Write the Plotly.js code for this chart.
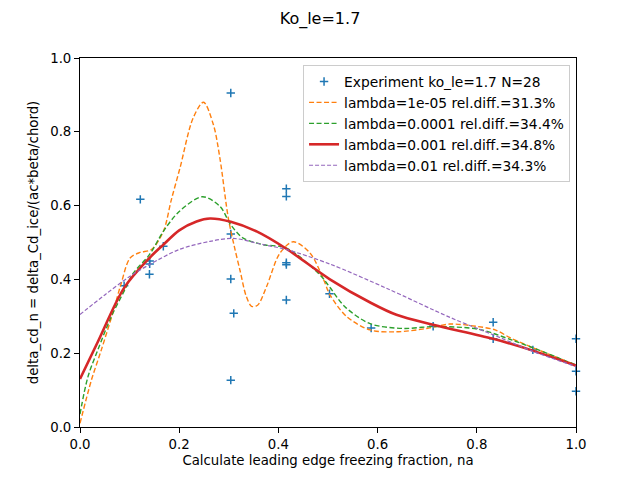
<!DOCTYPE html>
<html>
<head>
<meta charset="utf-8">
<script src="https://cdn.plot.ly/plotly-3.0.1.min.js"></script>
<style>
  html, body { margin: 0; padding: 0; background: #fff; }
  #chart { width: 640px; height: 480px; }
</style>
</head>
<body>
<div id="chart"></div>
<script>
// Measured drag increments against leading edge freezing fraction
const expX = [0.089, 0.1216, 0.1405, 0.1405, 0.14, 0.168, 0.304, 0.304, 0.304, 0.31, 0.304,
              0.416, 0.416, 0.416, 0.416, 0.416, 0.503, 0.587, 0.712, 0.833, 0.833, 0.913,
              1.0, 1.0, 1.0];
const expY = [0.383, 0.617, 0.450, 0.442, 0.414, 0.490, 0.905, 0.523, 0.401, 0.308, 0.127,
              0.646, 0.625, 0.445, 0.440, 0.344, 0.361, 0.268, 0.273, 0.284, 0.239, 0.209,
              0.239, 0.151, 0.097];

// Smoothing-spline fits for several regularisation weights
const fit1e5X = [0, 0.023, 0.043, 0.067, 0.083, 0.101, 0.121, 0.144, 0.168, 0.184, 0.2016, 0.228,
                 0.249, 0.269, 0.282, 0.299, 0.311, 0.323, 0.335, 0.346, 0.358, 0.376, 0.403,
                 0.43, 0.464, 0.491, 0.504, 0.538, 0.585, 0.638, 0.699, 0.746, 0.803, 0.837,
                 0.87, 0.924, 1.0];
const fit1e5Y = [0.01, 0.127, 0.209, 0.313, 0.389, 0.458, 0.473, 0.481, 0.530, 0.615, 0.702, 0.837,
                 0.880, 0.819, 0.729, 0.566, 0.490, 0.422, 0.355, 0.327, 0.330, 0.380, 0.471,
                 0.502, 0.471, 0.400, 0.358, 0.299, 0.263, 0.258, 0.267, 0.279, 0.272, 0.263,
                 0.240, 0.209, 0.168];

const fit1e4X = [0, 0.016, 0.036, 0.063, 0.09, 0.107, 0.14, 0.168, 0.2, 0.247, 0.282, 0.304,
                 0.329, 0.37, 0.416, 0.484, 0.504, 0.534, 0.585, 0.652, 0.712, 0.803, 0.87,
                 0.924, 1.0];
const fit1e4Y = [0.035, 0.136, 0.209, 0.299, 0.371, 0.416, 0.467, 0.530, 0.584, 0.624, 0.598, 0.548,
                 0.512, 0.494, 0.485, 0.412, 0.378, 0.326, 0.280, 0.267, 0.272, 0.265, 0.236,
                 0.209, 0.168];

const fit1e3X = [0, 0.036, 0.089, 0.14, 0.168, 0.2, 0.235, 0.262, 0.304, 0.356, 0.416, 0.503,
                 0.587, 0.638, 0.712, 0.833, 0.913, 1.0];
const fit1e3Y = [0.130, 0.231, 0.377, 0.458, 0.494, 0.533, 0.557, 0.565, 0.556, 0.530, 0.483, 0.401,
                 0.336, 0.304, 0.277, 0.239, 0.207, 0.166];

const fit1e2X = [0, 0.05, 0.1, 0.14, 0.2, 0.262, 0.309, 0.37, 0.416, 0.503, 0.618, 0.746,
                 0.833, 0.913, 1.0];
const fit1e2Y = [0.305, 0.358, 0.408, 0.440, 0.481, 0.503, 0.511, 0.494, 0.481, 0.442, 0.376, 0.297,
                 0.250, 0.205, 0.164];

const seriesNames = [
  'Experiment ko_le=1.7 N=28',
  'lambda=1e-05 rel.diff.=31.3%',
  'lambda=0.0001 rel.diff.=34.4%',
  'lambda=0.001 rel.diff.=34.8%',
  'lambda=0.01 rel.diff.=34.3%'
];
const tickVals = [0, 0.2, 0.4, 0.6, 0.8, 1.0];

const font = 'DejaVu Sans, sans-serif';

function fitTrace(x, y, name, color, width, dash) {
  return {
    x: x, y: y, name: name, type: 'scatter', mode: 'lines',
    line: { color: color, width: width, dash: dash, shape: 'spline', smoothing: 0.9 }
  };
}

const traces = [
  {
    x: expX, y: expY, name: seriesNames[0], type: 'scatter', mode: 'markers',
    marker: { symbol: 'cross-thin', size: 6, color: '#1f77b4',
              line: { color: '#1f77b4', width: 1.5 } },
    cliponaxis: false
  },
  fitTrace(fit1e5X, fit1e5Y, seriesNames[1], '#ff7f0e', 1.4, '5px,2.5px'),
  fitTrace(fit1e4X, fit1e4Y, seriesNames[2], '#2ca02c', 1.4, '5px,2.5px'),
  fitTrace(fit1e3X, fit1e3Y, seriesNames[3], '#d62728', 2.6, 'solid'),
  fitTrace(fit1e2X, fit1e2Y, seriesNames[4], '#9467bd', 1.2, '4px,2px')
];

const axisCommon = {
  range: [0, 1],
  tickvals: tickVals,
  tickformat: '.1f',
  ticks: 'outside',
  ticklen: 5,
  tickwidth: 1,
  tickcolor: '#000',
  showline: true,
  mirror: true,
  linecolor: '#000',
  linewidth: 1,
  showgrid: false,
  zeroline: false,
  tickfont: { family: font, size: 13.3, color: '#000' }
};

const layout = {
  width: 640,
  height: 480,
  margin: { l: 80, r: 64, t: 58, b: 53 },
  paper_bgcolor: '#fff',
  plot_bgcolor: '#fff',
  font: { family: font, color: '#000' },
  title: {
    text: 'Ko_le=1.7',
    font: { family: font, size: 16, color: '#000' },
    xref: 'container', x: 0.5, xanchor: 'center',
    yref: 'container', y: 1 - 18 / 480, yanchor: 'middle'
  },
  xaxis: Object.assign({}, axisCommon, {
    title: { text: 'Calculate leading edge freezing fraction, na',
             font: { family: font, size: 13.3, color: '#000' }, standoff: 4 }
  }),
  yaxis: Object.assign({}, axisCommon, {
    title: { text: 'delta_cd_n = delta_Cd_ice/(ac*beta/chord)',
             font: { family: font, size: 13.3, color: '#000' }, standoff: 8 }
  }),
  showlegend: true,
  legend: {
    x: 0.988, xanchor: 'right', xref: 'paper',
    y: 0.981, yanchor: 'top', yref: 'paper',
    bgcolor: 'rgba(255,255,255,0.8)',
    bordercolor: '#cccccc',
    borderwidth: 1,
    font: { family: font, size: 13.8, color: '#000' },
    itemwidth: 30,
    tracegroupgap: 0
  }
};

Plotly.newPlot('chart', traces, layout, { staticPlot: true, displayModeBar: false });
</script>
</body>
</html>
